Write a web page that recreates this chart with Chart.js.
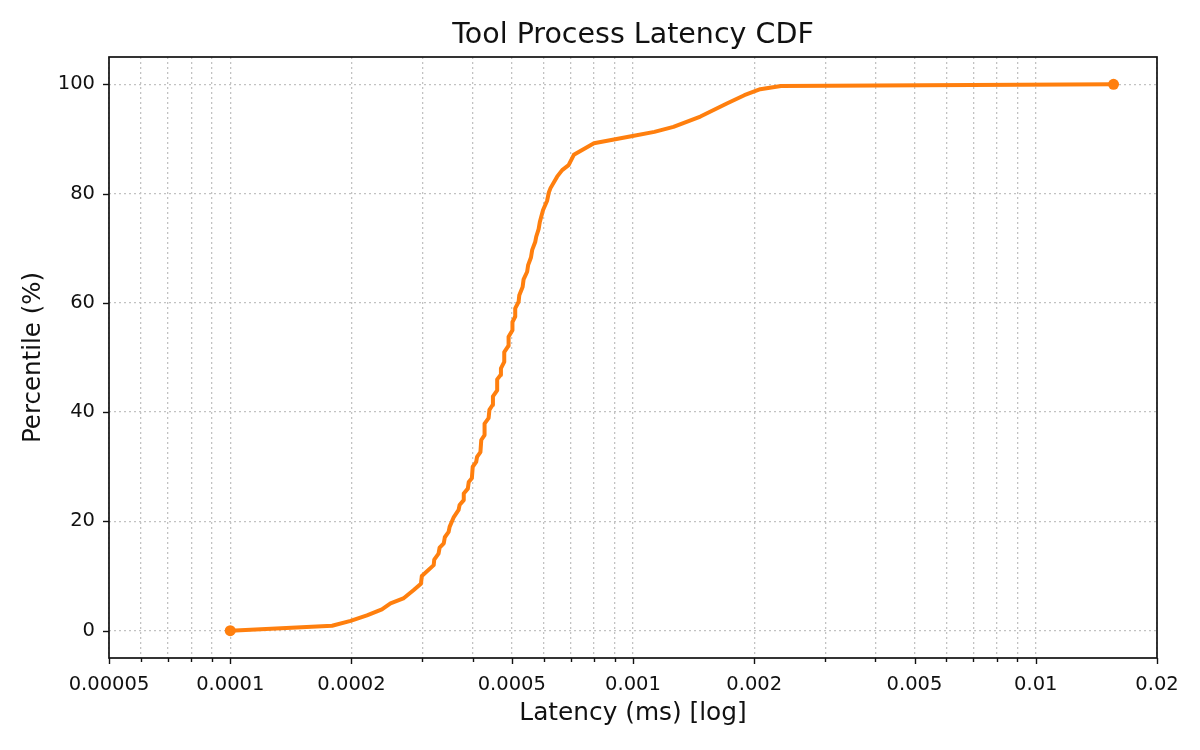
<!DOCTYPE html>
<html>
<head>
<meta charset="utf-8">
<title>Tool Process Latency CDF</title>
<script src="https://cdn.jsdelivr.net/npm/chart.js@4/dist/chart.umd.min.js"></script>
<style>
  html, body { margin: 0; padding: 0; background: #fff; }
  #cdf-chart { display: block; }
</style>
</head>
<body>
<canvas id="cdf-chart" width="1200" height="750"></canvas>
<script>
// latency samples (ms) and the matching percentile
const latencyMs = [
  0.0001, 0.000179, 0.000199, 0.0002185, 0.000238, 0.00025, 0.000269, 0.000285, 0.0002975, 0.000299,
  0.00032, 0.000321, 0.000329, 0.000331, 0.000339, 0.000341, 0.0003485, 0.0003505, 0.000359, 0.000369,
  0.000371, 0.00038, 0.00038, 0.000389, 0.000391, 0.000398, 0.0004, 0.000408, 0.00041, 0.000418,
  0.00042, 0.000428, 0.000428, 0.000438, 0.00044, 0.000448, 0.000449, 0.00046, 0.00046, 0.000469,
  0.00047, 0.000479, 0.000479, 0.00049, 0.000491, 0.000502, 0.000502, 0.00051, 0.00051, 0.00052,
  0.000522, 0.000532, 0.000535, 0.000546, 0.000549, 0.000558, 0.000562, 0.000572, 0.000575, 0.000583,
  0.000587, 0.000598, 0.000612, 0.000618, 0.000624, 0.000648, 0.000667, 0.000692, 0.000713, 0.0008,
  0.00099, 0.00113, 0.00126, 0.00147, 0.00171, 0.00189, 0.00207, 0.00233, 0.0156
];
const percentile = [
  0, 0.9, 1.8, 2.8, 3.9, 5.0, 5.9, 7.4, 8.6, 10.0,
  12.0, 13.0, 14.1, 15.2, 16.0, 17.1, 18.1, 19.0, 20.8, 22.1,
  23.0, 23.9, 25.1, 26.0, 27.2, 27.9, 30.0, 30.9, 31.8, 32.7,
  34.9, 35.8, 37.9, 38.9, 40.4, 41.3, 42.9, 44.0, 46.0, 46.8,
  48.0, 49.2, 51.0, 52.1, 53.8, 55.0, 56.5, 57.5, 59.0, 60.2,
  61.4, 62.9, 64.3, 65.7, 66.9, 68.3, 69.7, 71.2, 72.1, 73.5,
  74.8, 77.0, 78.7, 80.2, 81.0, 83.1, 84.3, 85.2, 87.1, 89.2,
  90.5, 91.3, 92.2, 94.1, 96.5, 98.0, 99.1, 99.7, 100
];

// log x axis: every 1..9 step gets a grid line, only 1/2/5 get a label
const xTickValues = [
  0.00005, 0.00006, 0.00007, 0.00008, 0.00009,
  0.0001, 0.0002, 0.0003, 0.0004, 0.0005, 0.0006, 0.0007, 0.0008, 0.0009,
  0.001, 0.002, 0.003, 0.004, 0.005, 0.006, 0.007, 0.008, 0.009,
  0.01, 0.02
];
const xTickLabels = [
  '0.00005', '', '', '', '',
  '0.0001', '0.0002', '', '', '0.0005', '', '', '', '',
  '0.001', '0.002', '', '', '0.005', '', '', '', '',
  '0.01', '0.02'
];
const yTickValues = [0, 20, 40, 60, 80, 100];

const TITLE = 'Tool Process Latency CDF';
const FONT = "'DejaVu Sans', 'Liberation Sans', sans-serif";
const INK = '#111111';
const GRID = '#c2c2c2';

// matplotlib-ish frame, outward tick marks, and the title centred over the plot
const frameTicks = {
    id: 'frameTicks',
    afterDraw(chart) {
        const { ctx, chartArea: a, scales } = chart;
        ctx.save();
        ctx.strokeStyle = INK;
        ctx.lineWidth = 1.4;
        xTickValues.forEach((v, i) => {
            const px = Math.round(scales.x.getPixelForValue(v)) + 0.5;
            const len = xTickLabels[i] ? 6 : 4;
            ctx.beginPath();
            ctx.moveTo(px, a.bottom);
            ctx.lineTo(px, a.bottom + len);
            ctx.stroke();
        });
        yTickValues.forEach(v => {
            const py = Math.round(scales.y.getPixelForValue(v)) + 0.5;
            ctx.beginPath();
            ctx.moveTo(a.left - 6, py);
            ctx.lineTo(a.left, py);
            ctx.stroke();
        });
        ctx.lineWidth = 1.7;
        ctx.strokeRect(a.left, a.top, a.right - a.left, a.bottom - a.top);

        ctx.fillStyle = INK;
        ctx.font = '28.5px ' + FONT;
        ctx.textAlign = 'center';
        ctx.textBaseline = 'middle';
        ctx.fillText(TITLE, (a.left + a.right) / 2, 36);
        ctx.restore();
    }
};

const points = latencyMs.map((x, i) => ({ x: x, y: percentile[i] }));
const lastIdx = points.length - 1;

new Chart(document.getElementById('cdf-chart'), {
    type: 'line',
    data: {
        datasets: [{
            label: 'Tool Process',
            data: points,
            borderColor: '#ff7f0e',
            backgroundColor: '#ff7f0e',
            borderWidth: 4,
            borderJoinStyle: 'round',
            borderCapStyle: 'round',
            tension: 0,
            fill: false,
            pointRadius: points.map((p, i) => (i === 0 || i === lastIdx) ? 5.5 : 0),
            pointHoverRadius: 0,
            pointBorderWidth: 0
        }]
    },
    options: {
        responsive: false,
        animation: false,
        devicePixelRatio: 1,
        layout: { padding: { left: 0, right: 43, top: 57, bottom: 0 } },
        plugins: {
            legend: { display: false },
            tooltip: { enabled: false },
            title: { display: false }
        },
        scales: {
            x: {
                type: 'logarithmic',
                min: 0.00005,
                max: 0.02,
                afterBuildTicks: scale => {
                    scale.ticks = xTickValues.map((v, i) => ({ value: v, major: xTickLabels[i] !== '' }));
                },
                afterFit: scale => { scale.height = 92; },
                ticks: {
                    autoSkip: false,
                    maxRotation: 0,
                    minRotation: 0,
                    padding: 15,
                    color: INK,
                    font: { family: FONT, size: 19.5 },
                    callback: (value, index) => xTickLabels[index]
                },
                grid: {
                    color: GRID,
                    lineWidth: 1.3,
                    drawTicks: false
                },
                border: { display: false, dash: [2, 3] },
                title: {
                    display: true,
                    text: 'Latency (ms) [log]',
                    color: INK,
                    font: { family: FONT, size: 24.8 },
                    padding: { top: 0, bottom: 22 }
                }
            },
            y: {
                type: 'linear',
                min: -5,
                max: 105,
                afterBuildTicks: scale => {
                    scale.ticks = yTickValues.map(v => ({ value: v }));
                },
                afterFit: scale => { scale.width = 109; },
                ticks: {
                    padding: 14,
                    color: INK,
                    font: { family: FONT, size: 19.5 }
                },
                grid: {
                    color: GRID,
                    lineWidth: 1.3,
                    drawTicks: false
                },
                border: { display: false, dash: [2, 3] },
                title: {
                    display: true,
                    text: 'Percentile (%)',
                    color: INK,
                    font: { family: FONT, size: 24.5 },
                    padding: { top: 19, bottom: 0 }
                }
            }
        }
    },
    plugins: [frameTicks]
});
</script>
</body>
</html>
